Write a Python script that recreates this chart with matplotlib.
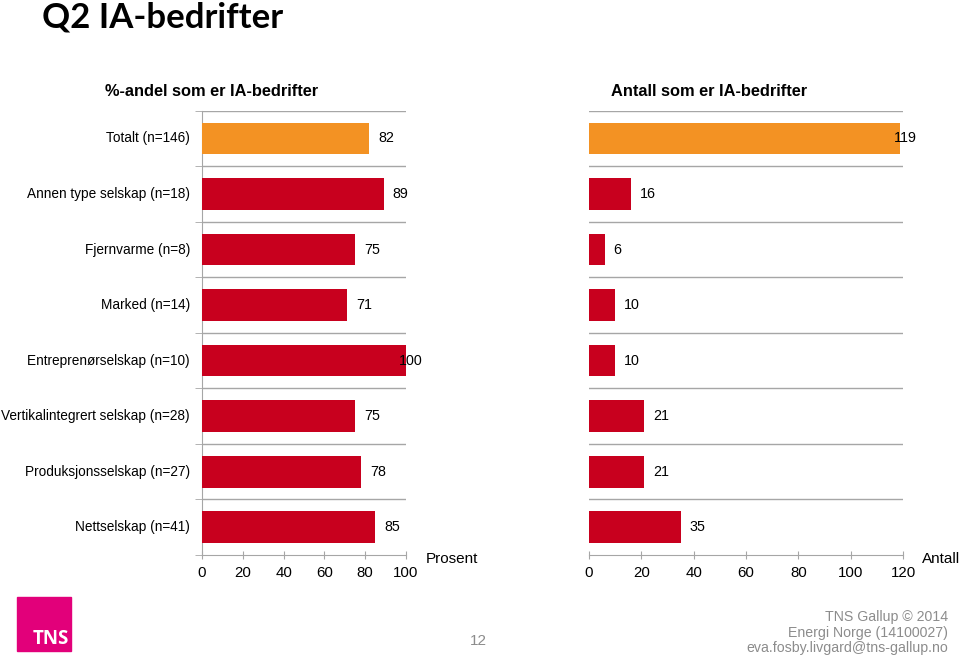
import matplotlib
matplotlib.use("Agg")
import matplotlib.pyplot as plt
from matplotlib.patches import Rectangle

categories = ["Totalt (n=146)", "Annen type selskap (n=18)", "Fjernvarme (n=8)",
              "Marked (n=14)", "Entreprenørselskap (n=10)",
              "Vertikalintegrert selskap (n=28)", "Produksjonsselskap (n=27)",
              "Nettselskap (n=41)"]
percent = [82, 89, 75, 71, 100, 75, 78, 85]
count = [119, 16, 6, 10, 10, 21, 21, 35]
pct_ticks = [0, 20, 40, 60, 80, 100]
cnt_ticks = [0, 20, 40, 60, 80, 100, 120]

ORANGE = "#F39223"
RED = "#C8001E"
GRID = "#A6A6A6"
colors = [ORANGE] + [RED] * (len(categories) - 1)

plt.rcParams['font.family'] = ['Liberation Sans', 'DejaVu Sans']

fig = plt.figure(figsize=(9.6, 6.55), dpi=100)
W, H = 960, 655

def ax_rect(x0, x1, y0, y1):
    return [x0 / W, 1 - y1 / H, (x1 - x0) / W, (y1 - y0) / H]

axL = fig.add_axes(ax_rect(202, 406, 110.7, 555))
axR = fig.add_axes(ax_rect(589, 903, 110.7, 555))

n = len(categories)
ypos = list(range(n))

def draw(ax, vals, xmax, ticks, show_left):
    ax.barh(ypos, vals, height=0.57, color=colors, zorder=3)
    ax.set_ylim(n - 0.5, -0.5)
    ax.set_xlim(0, xmax)
    for b in [i - 0.5 for i in range(n)]:
        ax.axhline(b, color=GRID, lw=1.0, zorder=1)
    ax.set_xticks(ticks)
    ax.set_xticklabels([str(t) for t in ticks], fontsize=10.8)
    ax.tick_params(axis='x', direction='inout', length=6, color=GRID, pad=5)
    for s in ['top', 'right']:
        ax.spines[s].set_visible(False)
    ax.spines['bottom'].set_color(GRID)
    ax.spines['left'].set_color(GRID)
    ax.spines['left'].set_visible(show_left)
    ax.set_yticks([i - 0.5 for i in range(n + 1)], minor=True)
    ax.set_yticks([])
    if show_left:
        ax.tick_params(axis='y', which='minor', direction='out', length=5, color=GRID)
    else:
        ax.tick_params(axis='y', which='minor', length=0)
    for i, v in enumerate(vals):
        if v >= xmax * 0.97:
            off = -7 * 0.72
        else:
            off = 9 * 0.72
        ax.annotate(str(v), xy=(v, i), xytext=(off, 0), textcoords='offset points',
                    va='center', ha='left', fontsize=10.3, color='black', zorder=4)

draw(axL, percent, 100, pct_ticks, True)
draw(axR, count, 120, cnt_ticks, False)

for i, c in enumerate(categories):
    axL.annotate(c, xy=(0, i), xytext=(-12 * 0.72, 0), textcoords='offset points',
                 ha='right', va='center', fontsize=9.8)

fig.text(212 / W, 1 - 91 / H, "%-andel som er IA-bedrifter", ha='center', va='center',
         fontsize=11.8, fontweight='bold')
fig.text(709 / W, 1 - 91 / H, "Antall som er IA-bedrifter", ha='center', va='center',
         fontsize=11.8, fontweight='bold')
fig.text(426 / W, 1 - 559 / H, "Prosent", ha='left', va='center', fontsize=11)
fig.text(922 / W, 1 - 559 / H, "Antall", ha='left', va='center', fontsize=11)

fig.text(42 / W, 1 - 18 / H, "Q2 IA-bedrifter", ha='left', va='center',
         fontsize=25, fontweight='bold', family=['Lato', 'DejaVu Sans'])

# footer
fig.text(478 / W, 1 - 641 / H, "12", ha='center', va='center', fontsize=11, color='#8C8C8C')
for yy, t in [(617, "TNS Gallup © 2014"), (633, "Energi Norge (14100027)"),
              (648, "eva.fosby.livgard@tns-gallup.no")]:
    fig.text(948 / W, 1 - yy / H, t, ha='right', va='center', fontsize=10.2, color='#8C8C8C')

# logo
fig.patches.append(Rectangle((17 / W, 1 - 651 / H), 54 / W, 54 / H,
                             transform=fig.transFigure, color='#E2007A', zorder=1))
fig.text(69 / W, 1 - 639 / H, "TNS", ha='right', va='center', fontsize=13.5,
         fontweight='bold', color='white', zorder=2, family=['Open Sans', 'DejaVu Sans'])

fig.savefig("out.png", dpi=100)
